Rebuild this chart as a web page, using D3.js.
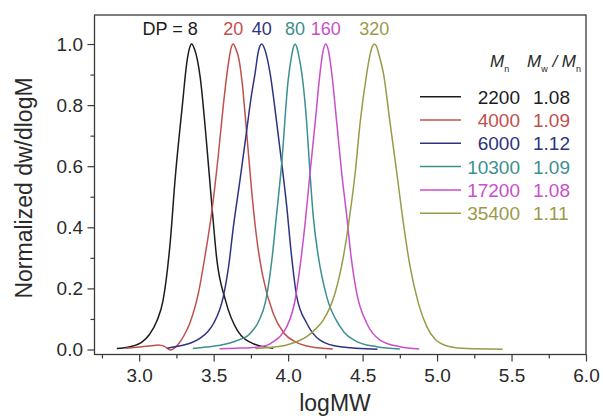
<!DOCTYPE html>
<html>
<head>
<meta charset="utf-8">
<script src="https://cdn.jsdelivr.net/npm/d3@7"></script>
<style>
  html, body { margin: 0; padding: 0; background: #fff; }
  svg { display: block; font-family: Arial, "Liberation Sans", sans-serif; }
</style>
</head>
<body>
<svg id="chart" width="603" height="416"></svg>
<script>
// GPC traces (normalized dw/dlogM vs logMW) for six degrees of polymerization
const dpLabels = ["8", "20", "40", "80", "160", "320"];
const mnValues = ["2200", "4000", "6000", "10300", "17200", "35400"];
const pdiValues = ["1.08", "1.09", "1.12", "1.09", "1.08", "1.11"];
const seriesColors = ["#1c1c1c", "#c0504d", "#2e3380", "#3d8f90", "#c94fca", "#9a9a48"];

const logMW_dp8 = [2.85, 2.94, 3.02, 3.07, 3.12, 3.16, 3.21, 3.24, 3.29, 3.32, 3.337, 3.353, 3.37, 3.39, 3.41, 3.45, 3.49, 3.52, 3.58, 3.66, 3.77, 3.90];
const dw_dp8    = [0.003, 0.009, 0.025, 0.050, 0.095, 0.16, 0.36, 0.55, 0.80, 0.94, 0.985, 1.0, 0.985, 0.95, 0.89, 0.69, 0.46, 0.30, 0.16, 0.062, 0.018, 0.004];

const logMW_dp20 = [2.91, 3.00, 3.08, 3.13, 3.17, 3.21, 3.24, 3.27, 3.30, 3.34, 3.40, 3.44, 3.49, 3.53, 3.565, 3.60, 3.616, 3.632, 3.648, 3.67, 3.69, 3.72, 3.755, 3.79, 3.83, 3.90, 3.97, 4.05, 4.15, 4.30];
const dw_dp20    = [0.004, 0.008, 0.012, 0.015, 0.010, -0.002, 0.006, 0.022, 0.045, 0.086, 0.19, 0.30, 0.46, 0.63, 0.80, 0.94, 0.985, 1.0, 0.985, 0.95, 0.88, 0.72, 0.52, 0.36, 0.24, 0.118, 0.055, 0.025, 0.009, 0.002];

const logMW_dp40 = [3.19, 3.25, 3.30, 3.35, 3.41, 3.46, 3.50, 3.565, 3.60, 3.632, 3.677, 3.722, 3.75, 3.778, 3.80, 3.823, 3.845, 3.879, 3.924, 3.957, 3.991, 4.02, 4.058, 4.125, 4.214, 4.35, 4.60];
const dw_dp40    = [0.004, 0.010, 0.015, 0.022, 0.037, 0.058, 0.086, 0.173, 0.27, 0.40, 0.555, 0.718, 0.82, 0.904, 0.975, 1.0, 0.98, 0.904, 0.74, 0.61, 0.467, 0.32, 0.173, 0.086, 0.031, 0.009, 0.001];

const logMW_dp80 = [3.36, 3.45, 3.55, 3.65, 3.74, 3.80, 3.85, 3.89, 3.92, 3.957, 4.00, 4.025, 4.036, 4.047, 4.058, 4.07, 4.092, 4.125, 4.147, 4.169, 4.203, 4.259, 4.349, 4.461, 4.595, 4.75];
const dw_dp80    = [0.003, 0.008, 0.015, 0.028, 0.05, 0.09, 0.16, 0.29, 0.43, 0.61, 0.88, 0.965, 0.99, 1.0, 0.99, 0.965, 0.904, 0.74, 0.577, 0.435, 0.304, 0.173, 0.075, 0.026, 0.009, 0.002];

const logMW_dp160 = [3.54, 3.65, 3.75, 3.811, 3.87, 3.901, 3.95, 3.991, 4.047, 4.08, 4.114, 4.147, 4.181, 4.214, 4.234, 4.253, 4.272, 4.293, 4.327, 4.36, 4.394, 4.42, 4.461, 4.528, 4.617, 4.75, 4.88];
const dw_dp160    = [0.002, 0.004, 0.006, 0.009, 0.016, 0.026, 0.045, 0.075, 0.162, 0.271, 0.413, 0.577, 0.74, 0.904, 0.975, 1.0, 0.975, 0.904, 0.74, 0.577, 0.435, 0.315, 0.184, 0.086, 0.031, 0.009, 0.002];

const logMW_dp320 = [3.78, 3.90, 3.991, 4.06, 4.125, 4.18, 4.237, 4.315, 4.371, 4.416, 4.45, 4.483, 4.528, 4.55, 4.565, 4.579, 4.594, 4.61, 4.64, 4.685, 4.73, 4.774, 4.819, 4.875, 4.931, 4.99, 5.08, 5.2, 5.44];
const dw_dp320    = [0.003, 0.008, 0.015, 0.026, 0.042, 0.065, 0.097, 0.184, 0.304, 0.446, 0.577, 0.74, 0.904, 0.965, 0.992, 1.0, 0.992, 0.965, 0.904, 0.74, 0.577, 0.413, 0.271, 0.151, 0.075, 0.032, 0.010, 0.003, 0.001];

const xTicksMajor = [3.0, 3.5, 4.0, 4.5, 5.0, 5.5, 6.0];
const xTicksMinor = [2.75, 3.25, 3.75, 4.25, 4.75, 5.25, 5.75];
const yTicksMajor = [0.0, 0.2, 0.4, 0.6, 0.8, 1.0];
const yTicksMinor = [0.1, 0.3, 0.5, 0.7, 0.9];

const seriesX = [logMW_dp8, logMW_dp20, logMW_dp40, logMW_dp80, logMW_dp160, logMW_dp320];
const seriesY = [dw_dp8, dw_dp20, dw_dp40, dw_dp80, dw_dp160, dw_dp320];

const svg = d3.select("#chart");
const plot = { left: 94.5, right: 586, top: 15, bottom: 354.5 };

const x = d3.scaleLinear().domain([2.7, 6.0]).range([plot.left, plot.right]);
const y = d3.scaleLinear().domain([-0.0164, 1.095]).range([plot.bottom, plot.top]);

const axisColor = "#3a3a3a";
const labelColor = "#2a2a2a";

// traces
const line = d3.line()
  .x(d => x(d[0]))
  .y(d => y(d[1]))
  .curve(d3.curveMonotoneX);

const traces = svg.append("g");
seriesX.forEach((xs, i) => {
  const pts = xs.map((v, j) => [v, seriesY[i][j]]);
  traces.append("path")
    .attr("d", line(pts))
    .attr("fill", "none")
    .attr("stroke", seriesColors[i])
    .attr("stroke-width", 1.5)
    .attr("stroke-linejoin", "round");
});

// axes
function styleAxis(g) {
  g.select(".domain").remove();
  g.selectAll(".tick line").attr("stroke", axisColor).attr("stroke-width", 1.2);
  g.selectAll(".tick text")
    .attr("fill", labelColor)
    .style("font-size", "19px")
    .style("font-family", "Arial, 'Liberation Sans', sans-serif");
}

svg.append("g")
  .attr("transform", `translate(0,${plot.bottom})`)
  .call(d3.axisBottom(x).tickValues(xTicksMajor).tickSize(7).tickPadding(7).tickFormat(d3.format(".1f")))
  .call(styleAxis);
svg.append("g")
  .attr("transform", `translate(0,${plot.bottom})`)
  .call(d3.axisBottom(x).tickValues(xTicksMinor).tickSize(4).tickFormat(""))
  .call(styleAxis);
svg.append("g")
  .attr("transform", `translate(${plot.left},0)`)
  .call(d3.axisLeft(y).tickValues(yTicksMajor).tickSize(7).tickPadding(4.5).tickFormat(d3.format(".1f")))
  .call(styleAxis);
svg.append("g")
  .attr("transform", `translate(${plot.left},0)`)
  .call(d3.axisLeft(y).tickValues(yTicksMinor).tickSize(4).tickFormat(""))
  .call(styleAxis);

// frame
svg.append("rect")
  .attr("x", plot.left).attr("y", plot.top)
  .attr("width", plot.right - plot.left).attr("height", plot.bottom - plot.top)
  .attr("fill", "none").attr("stroke", axisColor).attr("stroke-width", 1.3);

// axis titles
svg.append("text")
  .attr("x", 335).attr("y", 411)
  .attr("text-anchor", "middle")
  .attr("fill", labelColor)
  .style("font-size", "23px")
  .text("logMW");
svg.append("text")
  .attr("transform", "translate(32,188) rotate(-90)")
  .attr("text-anchor", "middle")
  .attr("fill", labelColor)
  .style("font-size", "23px")
  .text("Normalized dw/dlogM");

// degree-of-polymerization labels above each peak
seriesX.forEach((xs, i) => {
  const ys = seriesY[i];
  const peakIdx = d3.maxIndex(ys);
  const px = x(xs[peakIdx]);
  const t = svg.append("text")
    .attr("y", 35)
    .attr("fill", seriesColors[i])
    .style("font-size", "18px");
  if (i === 0) {
    t.attr("x", px + 6).attr("text-anchor", "end").text("DP = " + dpLabels[i]);
  } else {
    t.attr("x", px).attr("text-anchor", "middle").text(dpLabels[i]);
  }
});

// legend
const legend = svg.append("g");
const hdr = legend.append("text")
  .attr("x", 490).attr("y", 67)
  .attr("fill", labelColor)
  .style("font-size", "17px");
hdr.append("tspan").style("font-style", "italic").text("M");
hdr.append("tspan").attr("dy", 5).style("font-size", "9px").text("n");

const hdr2 = legend.append("text")
  .attr("x", 527).attr("y", 67)
  .attr("fill", labelColor)
  .style("font-size", "17px");
hdr2.append("tspan").style("font-style", "italic").text("M");
hdr2.append("tspan").attr("dy", 5).style("font-size", "9px").text("w");
hdr2.append("tspan").attr("dy", -5).style("font-style", "italic").text(" / M");
hdr2.append("tspan").attr("dy", 5).style("font-size", "9px").text("n");

const rowY0 = 96.7, rowStep = 23.3;
mnValues.forEach((mn, i) => {
  const ry = rowY0 + i * rowStep;
  legend.append("line")
    .attr("x1", 420).attr("x2", 461)
    .attr("y1", ry).attr("y2", ry)
    .attr("stroke", seriesColors[i]).attr("stroke-width", 1.5);
  legend.append("text")
    .attr("x", 520).attr("y", ry + 7)
    .attr("text-anchor", "end")
    .attr("fill", seriesColors[i])
    .style("font-size", "19px")
    .text(mn);
  legend.append("text")
    .attr("x", 533).attr("y", ry + 7)
    .attr("fill", seriesColors[i])
    .style("font-size", "19px")
    .text(pdiValues[i]);
});
</script>
</body>
</html>
